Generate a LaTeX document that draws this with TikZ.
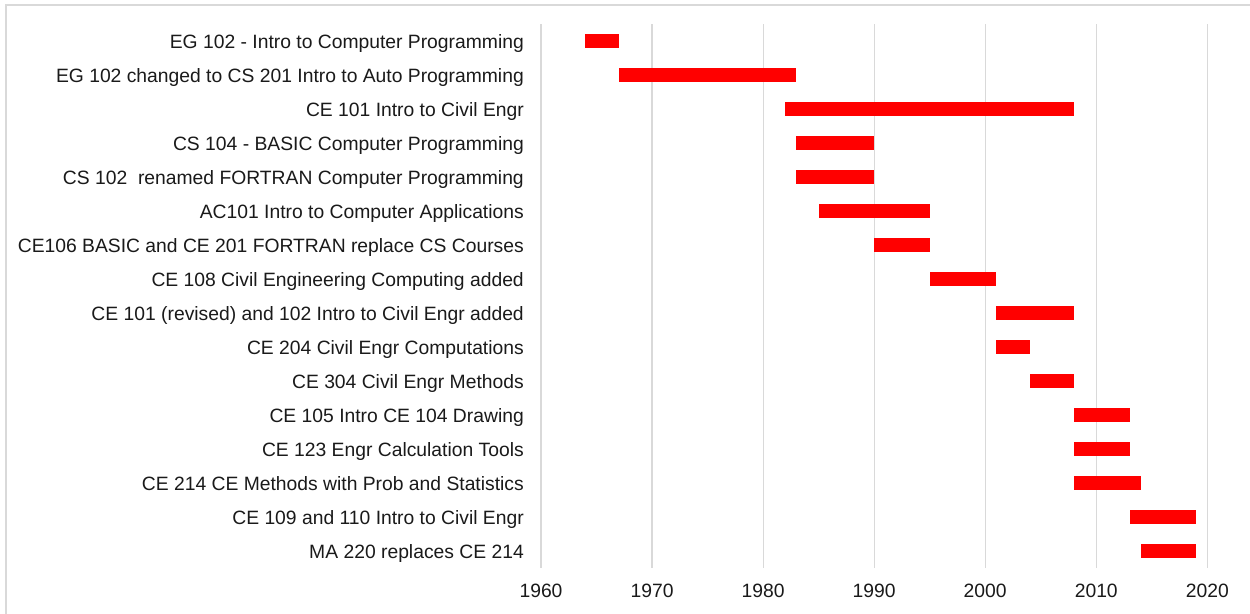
\documentclass[tikz,border=0pt]{standalone}
\usepackage{fontspec}
\setmainfont{Liberation Sans}
\definecolor{gridgray}{HTML}{D9D9D9}
\definecolor{barred}{HTML}{FF0000}
\definecolor{txt}{HTML}{1A1A1A}
\tikzset{
  lbl/.style={anchor=base east, inner sep=0pt, text=txt, font=\fontsize{19.3}{22}\selectfont},
  ticklbl/.style={anchor=base, inner sep=0pt, text=txt, font=\fontsize{19.3}{22}\selectfont},
  grid/.style={draw=gridgray, line width=1.2pt},
  frame/.style={draw=gridgray, line width=1.2pt},
  bar/.style={fill=barred}
}
\begin{document}
\begin{tikzpicture}[x=1pt,y=-1pt]
\useasboundingbox (0,0) rectangle (1250,613);
\fill[white] (0,0) rectangle (1250,613);
\draw[frame] (6,700) -- (6,5) -- (1300,5);
% gridlines and tick labels
\foreach \yr in {1960,1970,...,2020}{
  \pgfmathsetmacro{\gx}{541+(\yr-1960)*11.105}
  \draw[grid] (\gx,24) -- (\gx,568);
  \node[ticklbl] (t\yr) at (\gx,597) {\yr};
}
% bars and labels
\foreach \i/\a/\b/\t in {
 1/1964/1967/{EG 102 - Intro to Computer Programming},
 2/1967/1983/{EG 102 changed to CS 201 Intro to Auto Programming},
 3/1982/2008/{CE 101 Intro to Civil Engr},
 4/1983/1990/{CS 104 - BASIC Computer Programming},
 5/1983/1990/{CS 102\ \ renamed FORTRAN Computer Programming},
 6/1985/1995/{AC101 Intro to Computer Applications},
 7/1990/1995/{CE106 BASIC and CE 201 FORTRAN replace CS Courses},
 8/1995/2001/{CE 108 Civil Engineering Computing added},
 9/2001/2008/{CE 101 (revised) and 102 Intro to Civil Engr added},
 10/2001/2004/{CE 204 Civil Engr Computations},
 11/2004/2008/{CE 304 Civil Engr Methods},
 12/2008/2013/{CE 105 Intro CE 104 Drawing},
 13/2008/2013/{CE 123 Engr Calculation Tools},
 14/2008/2014/{CE 214 CE Methods with Prob and Statistics},
 15/2013/2019/{CE 109 and 110 Intro to Civil Engr},
 16/2014/2019/{MA 220 replaces CE 214}}{
  \pgfmathsetmacro{\ry}{41+34*(\i-1)}
  \pgfmathsetmacro{\xa}{541+(\a-1960)*11.105}
  \pgfmathsetmacro{\xb}{541+(\b-1960)*11.105}
  \node[lbl] (L\i) at (524,\ry+7) {\t};
  \fill[bar] (\xa,\ry-7) rectangle (\xb,\ry+7);
}
\end{tikzpicture}
\end{document}
